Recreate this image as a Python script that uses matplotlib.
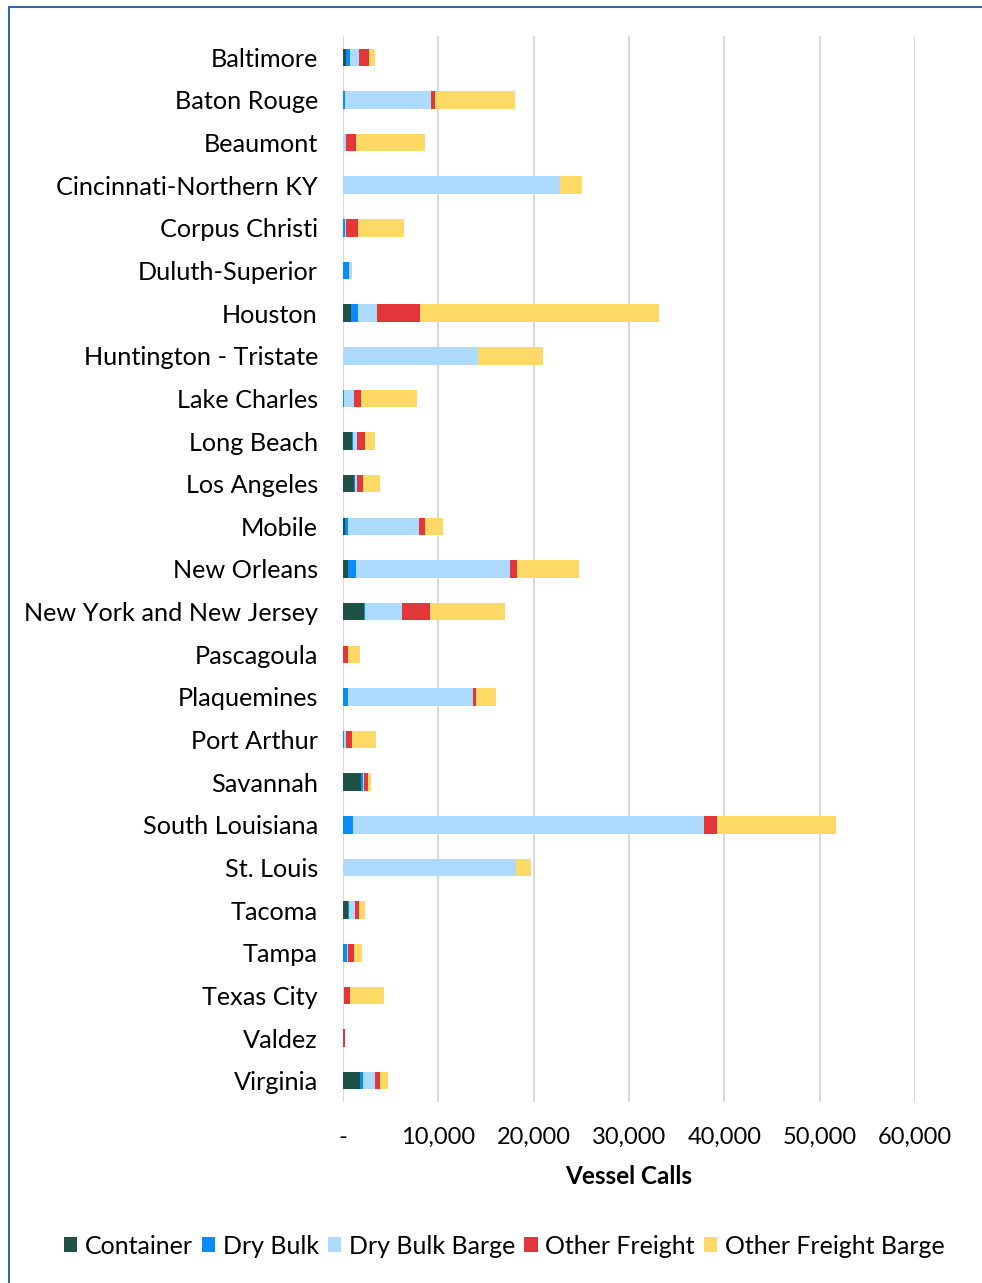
# vessel calls by port and vessel type, stacked horizontal bars

import numpy as np
import matplotlib.pyplot as plt
from matplotlib.patches import Rectangle
from matplotlib.ticker import FuncFormatter

plt.rcParams['font.family'] = ['Lato', 'DejaVu Sans']

ports = ["Baltimore", "Baton Rouge", "Beaumont", "Cincinnati-Northern KY",
         "Corpus Christi", "Duluth-Superior", "Houston", "Huntington - Tristate",
         "Lake Charles", "Long Beach", "Los Angeles", "Mobile", "New Orleans",
         "New York and New Jersey", "Pascagoula", "Plaquemines", "Port Arthur",
         "Savannah", "South Louisiana", "St. Louis", "Tacoma", "Tampa",
         "Texas City", "Valdez", "Virginia"]

container = [350, 0, 0, 0, 0, 0, 870, 0, 0, 940, 1150, 200, 490,
             2200, 0, 0, 0, 1890, 0, 0, 560, 0, 0, 0, 1780]
dry_bulk = [350, 200, 0, 0, 200, 600, 660, 0, 100, 140, 70, 350, 910,
            140, 0, 520, 100, 210, 1010, 0, 70, 380, 0, 0, 350]
dry_bulk_barge = [1000, 9000, 300, 22760, 100, 380, 2030, 14160, 1050, 420, 280, 7410, 16150,
                  3850, 0, 13100, 250, 70, 36900, 18180, 630, 140, 100, 0, 1260]
other_freight = [1000, 450, 1050, 0, 1260, 0, 4480, 0, 700, 770, 560, 660, 660,
                 2900, 490, 310, 600, 450, 1300, 0, 380, 630, 600, 250, 450]
other_freight_barge = [700, 8350, 7300, 2270, 4800, 0, 25100, 6780, 5870, 1080, 1780, 1890, 6570,
                       7870, 1260, 2100, 2480, 280, 12500, 1500, 700, 800, 3640, 0, 840]

series = [("Container", container, "#1F5246"),
          ("Dry Bulk", dry_bulk, "#0A8CF8"),
          ("Dry Bulk Barge", dry_bulk_barge, "#ADDBFF"),
          ("Other Freight", other_freight, "#E3363A"),
          ("Other Freight Barge", other_freight_barge, "#FFD966")]

fig = plt.figure(figsize=(9.82, 12.83), dpi=100)
ax = fig.add_axes([343 / 982, 1 - 1102 / 1283, (915 - 343) / 982, (1102 - 36) / 1283])

y = np.arange(len(ports))
left = np.zeros(len(ports))
for name, vals, color in series:
    ax.barh(y, vals, left=left, height=0.41, color=color, label=name, zorder=3)
    left += np.array(vals)

ax.set_ylim(len(ports) - 0.5, -0.5)
ax.set_yticks(y)
ax.set_yticklabels(ports, fontsize=18.2)
ax.set_xlim(0, 60000)
ax.set_xticks(np.arange(0, 60001, 10000))
ax.xaxis.set_major_formatter(FuncFormatter(lambda v, p: "-" if v == 0 else f"{int(v):,}"))
ax.tick_params(axis="x", labelsize=17, length=0, pad=18)
ax.tick_params(axis="y", length=0, pad=18)
ax.grid(axis="x", color="#D9D9D9", linewidth=1.5, zorder=0)
for s in ax.spines.values():
    s.set_visible(False)
ax.set_xlabel("Vessel Calls", fontsize=17.5, fontweight="bold", labelpad=12)

fig.legend(loc="center", bbox_to_anchor=(504 / 982, 1 - 1246 / 1283), ncol=5,
           frameon=False, fontsize=18, handlelength=0.55, handleheight=0.55,
           handletextpad=0.3, columnspacing=0.35)

# blue frame on left and top edges
fig.patches.append(Rectangle((9 / 982, -0.1), 1.2, 1 - 7 / 1283 + 0.1,
                             transform=fig.transFigure, fill=False,
                             edgecolor="#3A66A0", linewidth=1.5))

fig.savefig("out.png", dpi=100)
